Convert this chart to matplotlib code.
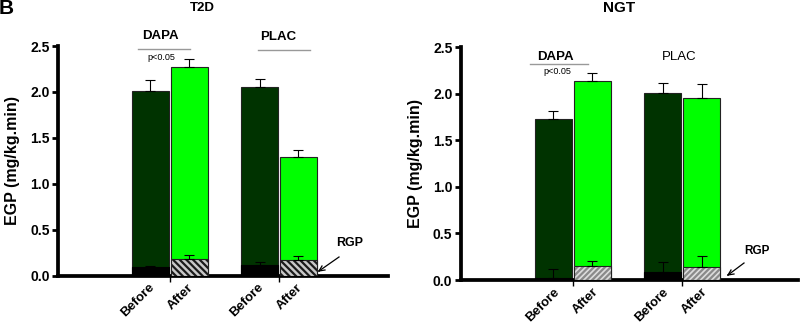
import matplotlib.pyplot as plt
import numpy as np

# bar order: DAPA before, DAPA after, PLAC before, PLAC after
labels = ["Before", "After", "Before", "After"]

t2d_egp = [2.01, 2.27, 2.05, 1.29]
t2d_egp_err = [0.12, 0.09, 0.09, 0.08]
t2d_rgp = [0.09, 0.18, 0.12, 0.175]
t2d_rgp_err = [0.02, 0.04, 0.025, 0.04]

ngt_egp = [1.73, 2.135, 2.01, 1.95]
ngt_egp_err = [0.08, 0.085, 0.10, 0.15]
ngt_rgp = [0.025, 0.155, 0.083, 0.137]
ngt_rgp_err = [0.095, 0.05, 0.11, 0.12]

pos = np.array([2.5, 3.55, 5.45, 6.5])
dark = "#003300"
light = "#00ff00"

plt.rcParams['font.family'] = ['Liberation Sans', 'DejaVu Sans']
plt.rcParams['hatch.linewidth'] = 1.6

fig = plt.figure(figsize=(8, 3.23), dpi=100)
ax1 = fig.add_axes([0.0725, 0.1465, 0.4125, 0.711])
ax2 = fig.add_axes([0.576, 0.133, 0.4215, 0.721])


def draw(ax, egp, egp_err, rgp, rgp_err, hatch, hcol, hbg, xmax, lab_off):
    cols = [dark, light, dark, light]
    ax.bar(pos, egp, width=1.0, color=cols, edgecolor="#222222", linewidth=0.8, zorder=2)
    ax.errorbar(pos, egp, yerr=[np.zeros(4), egp_err], fmt="none", ecolor="black",
                elinewidth=0.8, capsize=3.5, capthick=0.8, zorder=3)
    # RGP portion at the bottom
    for i in range(4):
        if i % 2 == 0:
            ax.bar(pos[i], rgp[i], width=1.0, color="black", edgecolor="black",
                   linewidth=0.8, zorder=4)
        else:
            ax.bar(pos[i], rgp[i], width=1.0, color=hbg, edgecolor=hcol,
                   hatch=hatch, linewidth=0, zorder=4)
            ax.bar(pos[i], rgp[i], width=1.0, color="none", edgecolor="#222222",
                   linewidth=0.8, zorder=4)
    ax.errorbar(pos, rgp, yerr=[np.zeros(4), rgp_err], fmt="none", ecolor="black",
                elinewidth=0.8, capsize=3.5, capthick=0.8, zorder=5)

    ax.set_xlim(0, xmax)
    ax.set_ylim(0, 2.5)
    ax.set_yticks([0, 0.5, 1.0, 1.5, 2.0, 2.5])
    ax.set_yticklabels(["0.0", "0.5", "1.0", "1.5", "2.0", "2.5"], fontweight="bold", fontsize=10)
    ax.set_xticks([(pos[0] + pos[1]) / 2, (pos[2] + pos[3]) / 2])
    ax.set_xticklabels([])
    ax.tick_params(axis="x", length=4, width=1)
    for x, lab in zip(pos, labels):
        ax.text(x + lab_off, -0.025, lab, transform=ax.get_xaxis_transform(), rotation=45,
                ha="right", va="top", fontweight="bold", fontsize=9.5)
    ax.tick_params(axis="y", length=4, width=2, pad=2)
    ax.spines["top"].set_visible(False)
    ax.spines["right"].set_visible(False)
    ax.spines["left"].set_linewidth(2.7)
    ax.spines["bottom"].set_linewidth(2.7)
    ax.set_ylabel("EGP (mg/kg.min)", fontweight="bold", fontsize=11.5, labelpad=7)


draw(ax1, t2d_egp, t2d_egp_err, t2d_rgp, t2d_rgp_err, "\\\\\\\\\\", "#1a1a1a", "#c8c8c8", 8.92, 0.18)
draw(ax2, ngt_egp, ngt_egp_err, ngt_rgp, ngt_rgp_err, "//////", "#8a8a8a", "#dcdcdc", 9.1, 0.22)

# group headers
fig.text(202 / 800, 1 - 8 / 323, "T2D", ha="center", va="center", fontweight="bold", fontsize=9.5)
fig.text(619 / 800, 1 - 8 / 323, "NGT", ha="center", va="center", fontweight="bold", fontsize=11)
fig.text(-0.002, 1 - 14 / 323, "B", ha="left", va="baseline", fontweight="bold", fontsize=15)

fig.text(160 / 800, 1 - 36 / 323, "DAPA", ha="center", va="center", fontweight="bold", fontsize=9.5)
fig.add_artist(plt.Line2D([138 / 800, 190 / 800], [1 - 49 / 323] * 2, color="#999999", lw=1))
fig.text(161 / 800, 1 - 57 / 323, "p<0.05", ha="center", va="center", fontsize=6.5)
fig.text(278 / 800, 1 - 37 / 323, "PLAC", ha="center", va="center", fontweight="bold", fontsize=9.5)
fig.add_artist(plt.Line2D([258 / 800, 310 / 800], [1 - 50 / 323] * 2, color="#999999", lw=1))

fig.text(555 / 800, 1 - 57 / 323, "DAPA", ha="center", va="center", fontweight="bold", fontsize=9.5)
fig.add_artist(plt.Line2D([530 / 800, 588 / 800], [1 - 64 / 323] * 2, color="#999999", lw=1))
fig.text(557 / 800, 1 - 72 / 323, "p<0.05", ha="center", va="center", fontsize=6.5)
fig.text(679 / 800, 1 - 57 / 323, "PLAC", ha="center", va="center", fontsize=9.5)

# RGP annotations
fig.text(350 / 800, 1 - 243 / 323, "RGP", ha="center", va="center", fontweight="bold", fontsize=9)
fig.add_artist(plt.Line2D([339 / 800, 319 / 800], [1 - 257 / 323, 1 - 271 / 323], color="black", lw=0.9))
fig.add_artist(plt.Line2D([319 / 800, 325 / 800], [1 - 271 / 323, 1 - 270 / 323], color="black", lw=0.9))
fig.add_artist(plt.Line2D([319 / 800, 322 / 800], [1 - 271 / 323, 1 - 266 / 323], color="black", lw=0.9))
fig.text(757 / 800, 1 - 251 / 323, "RGP", ha="center", va="center", fontweight="bold", fontsize=8.5)
fig.add_artist(plt.Line2D([744 / 800, 728 / 800], [1 - 263 / 323, 1 - 275 / 323], color="black", lw=0.9))
fig.add_artist(plt.Line2D([728 / 800, 734 / 800], [1 - 275 / 323, 1 - 274 / 323], color="black", lw=0.9))
fig.add_artist(plt.Line2D([728 / 800, 731 / 800], [1 - 275 / 323, 1 - 270 / 323], color="black", lw=0.9))

fig.savefig("out.png", dpi=100)
